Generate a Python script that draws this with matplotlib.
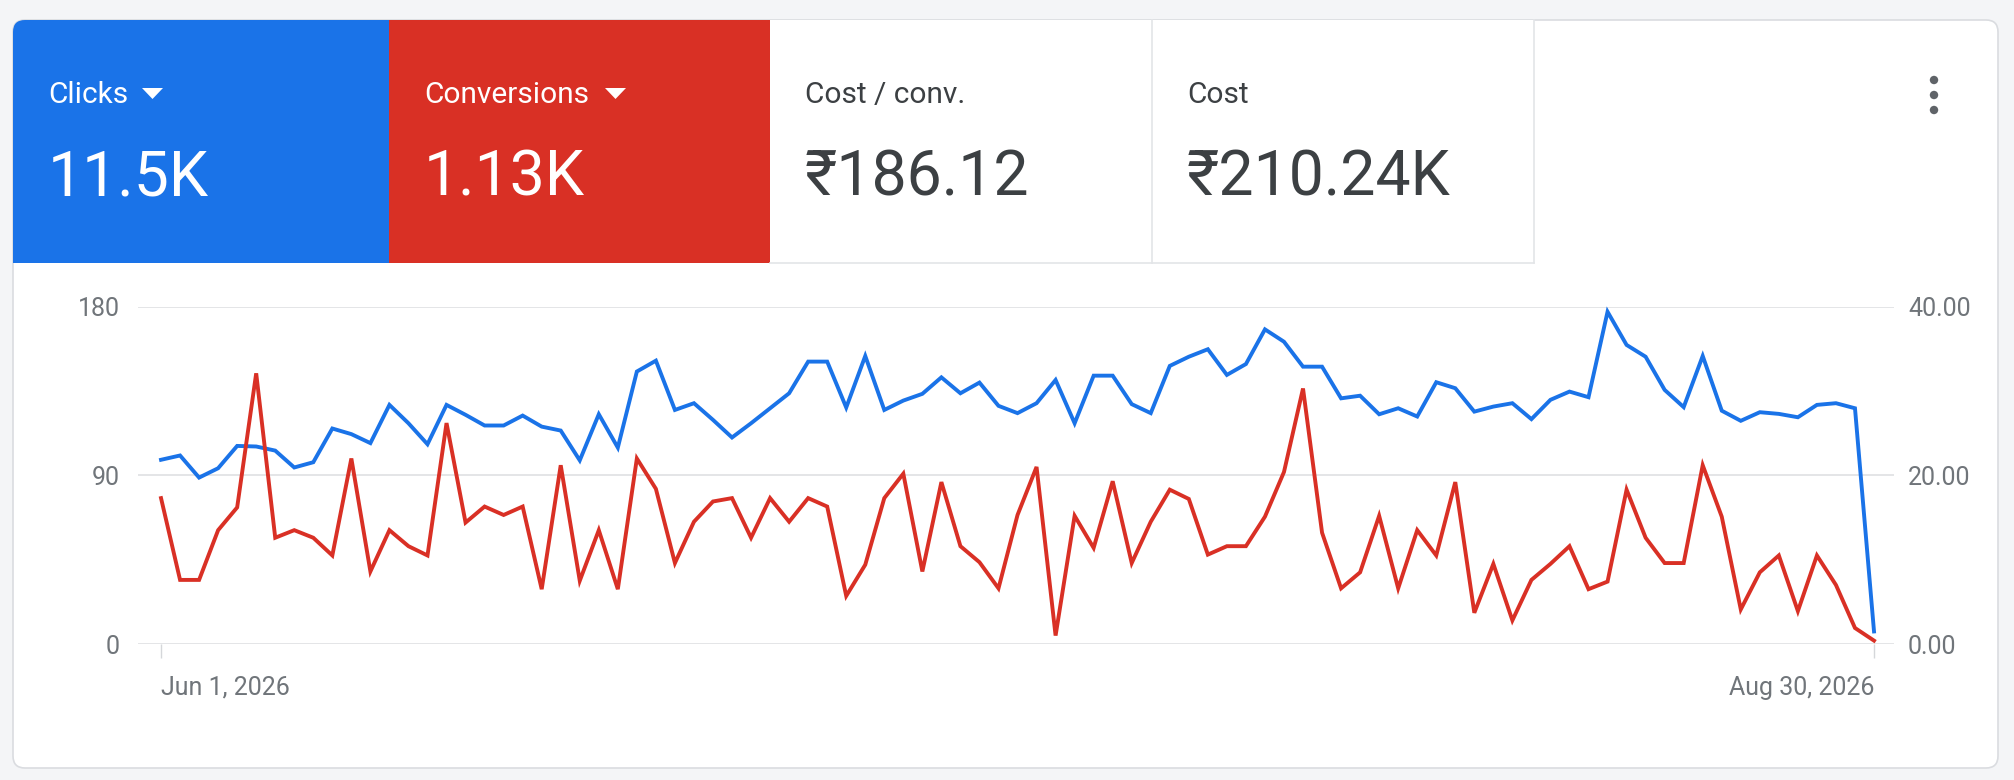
import matplotlib
matplotlib.use("Agg")
import matplotlib.pyplot as plt
from matplotlib.patches import FancyBboxPatch, Rectangle, Polygon, Circle
import numpy as np
import pandas as pd

plt.rcParams['font.family'] = ['Roboto', 'DejaVu Sans']

# data
dates = pd.date_range('2026-06-01', '2026-08-30', freq='D')
clicks = [98.3, 100.6, 88.8, 93.8, 105.7, 105.4, 103.2, 94.2, 97.0, 115.0,
          112.0, 107.2, 127.6, 117.8, 106.6, 127.6, 122.3, 116.6, 116.6, 121.9,
          116.0, 113.9, 98.0, 122.6, 104.8, 145.4, 151.2, 124.9, 128.5, 119.6,
          110.2, 117.8, 125.8, 133.8, 150.7, 150.7, 126.2, 153.7, 124.9, 129.9,
          133.5, 142.3, 133.8, 139.5, 127.1, 123.2, 128.5, 140.9, 117.8, 143.2,
          143.2, 128.0, 123.2, 148.4, 153.3, 157.3, 143.6, 149.4, 167.9, 161.3,
          148.0, 148.0, 131.1, 132.5, 122.6, 125.8, 121.4, 139.7, 136.5, 124.0,
          126.7, 128.5, 120.0, 130.3, 134.7, 131.7, 177.3, 159.6, 153.3, 135.6,
          126.4, 153.7, 124.5, 119.1, 123.7, 122.8, 121.0, 127.6, 128.5, 125.8,
          6.7]
conversions = [17.3, 7.6, 7.6, 13.5, 16.2, 32.1, 12.6, 13.5, 12.6, 10.5,
               22.0, 8.6, 13.5, 11.6, 10.5, 26.2, 14.4, 16.3, 15.3, 16.3,
               6.5, 21.2, 7.5, 13.5, 6.5, 22.0, 18.4, 9.6, 14.5, 16.9,
               17.3, 12.6, 17.3, 14.5, 17.3, 16.3, 5.7, 9.4, 17.3, 20.2,
               8.6, 19.2, 11.6, 9.7, 6.6, 15.3, 21.0, 1.0, 15.2, 11.4,
               19.3, 9.6, 14.5, 18.3, 17.2, 10.6, 11.6, 11.6, 15.1, 20.4,
               30.3, 13.2, 6.6, 8.5, 15.2, 6.6, 13.5, 10.5, 19.2, 3.7,
               9.5, 2.8, 7.6, 9.5, 11.6, 6.5, 7.4, 18.3, 12.6, 9.6,
               9.6, 21.2, 15.1, 4.1, 8.5, 10.5, 3.9, 10.5, 7.0, 1.9,
               0.4]
left_ticks = [0, 90, 180]
right_ticks = [0, 20, 40]
tiles = [('Clicks', '11.5K'), ('Conversions', '1.13K'),
         ('Cost / conv.', '₹186.12'), ('Cost', '₹210.24K')]

BLUE = '#1a73e8'
RED = '#d93025'
W, H = 2014, 780

fig = plt.figure(figsize=(W / 100, H / 100), dpi=100)
fig.patch.set_facecolor('#f4f5f7')

# background layer in pixel coordinates (y down)
bg = fig.add_axes([0, 0, 1, 1], zorder=0)
bg.set_xlim(0, W)
bg.set_ylim(H, 0)
bg.axis('off')

card = FancyBboxPatch((13, 20), 1985, 748, boxstyle='round,pad=0,rounding_size=12',
                      facecolor='white', edgecolor='#dadce0', linewidth=1.2)
bg.add_patch(card)

tile_x = [13, 389, 770, 1152, 1534]
tile_top, tile_bot = 20, 263
tile_fc = [BLUE, RED, 'white', 'white']
for i, (label, value) in enumerate(tiles):
    x0, x1 = tile_x[i], tile_x[i + 1]
    r = Rectangle((x0, tile_top), x1 - x0, tile_bot - tile_top,
                  facecolor=tile_fc[i], edgecolor='none')
    bg.add_patch(r)
    r.set_clip_path(card)
    txt_col = 'white' if i < 2 else '#3c4043'
    bg.text(x0 + 35, 103, label, fontsize=21.5, color=txt_col, va='baseline', ha='left')
    bg.text(x0 + 35, 195, value, fontsize=45, color=txt_col, va='baseline', ha='left')
    if i >= 2:
        bg.plot([x1, x1], [tile_top, tile_bot], color='#e3e5e8', lw=1.2)
        bg.plot([x0, x1], [tile_bot, tile_bot], color='#e3e5e8', lw=1.2)

# dropdown arrows
bg.add_patch(Polygon([(142, 88), (163, 88), (152.5, 99)], closed=True,
                     facecolor='white', edgecolor='none'))
bg.add_patch(Polygon([(605, 88), (626, 88), (615.5, 99)], closed=True,
                     facecolor='white', edgecolor='none'))

# kebab menu
for yy in (80, 95, 110):
    bg.add_patch(Circle((1934, yy), 4.2, facecolor='#5f6368', edgecolor='none'))

# chart
left, right = 138, 1894
y_top, y_bot = 306.7, 644
ax = fig.add_axes([left / W, 1 - y_bot / H, (right - left) / W, (y_bot - y_top) / H], zorder=2)
ax.patch.set_alpha(0)
ax2 = ax.twinx()

ax.plot(dates, clicks, color=BLUE, lw=2.8, solid_joinstyle='miter', clip_on=False)
ax2.plot(dates, conversions, color=RED, lw=2.8, solid_joinstyle='miter', clip_on=False)

day = pd.Timedelta(days=1)
ax.set_xlim(dates[0] - 1.21 * day, dates[-1] + 1.05 * day)
ax.set_ylim(0, 180)
ax2.set_ylim(0, 40)

ax.set_yticks(left_ticks)
ax.set_yticklabels([str(t) for t in left_ticks])
ax2.set_yticks(right_ticks)
ax2.set_yticklabels([f'{t:.2f}' for t in right_ticks])

for a in (ax, ax2):
    for s in a.spines.values():
        s.set_visible(False)

ax.grid(axis='y', color='#e2e3e5', lw=1.3)
ax.set_axisbelow(True)
ax.tick_params(axis='y', length=0, pad=13, labelsize=18, labelcolor='#70757a')
ax2.tick_params(axis='y', length=0, pad=10, labelsize=18, labelcolor='#70757a')

ax.set_xticks([dates[0], dates[-1]])
ax.set_xticklabels(['Jun 1, 2026', 'Aug 30, 2026'])
ax.tick_params(axis='x', length=10, width=1, color='#d5d7da', pad=13,
               labelsize=18, labelcolor='#70757a')
lbls = ax.get_xticklabels()
lbls[0].set_ha('left')
lbls[1].set_ha('right')

fig.savefig('out.png', dpi=100, facecolor=fig.get_facecolor())
